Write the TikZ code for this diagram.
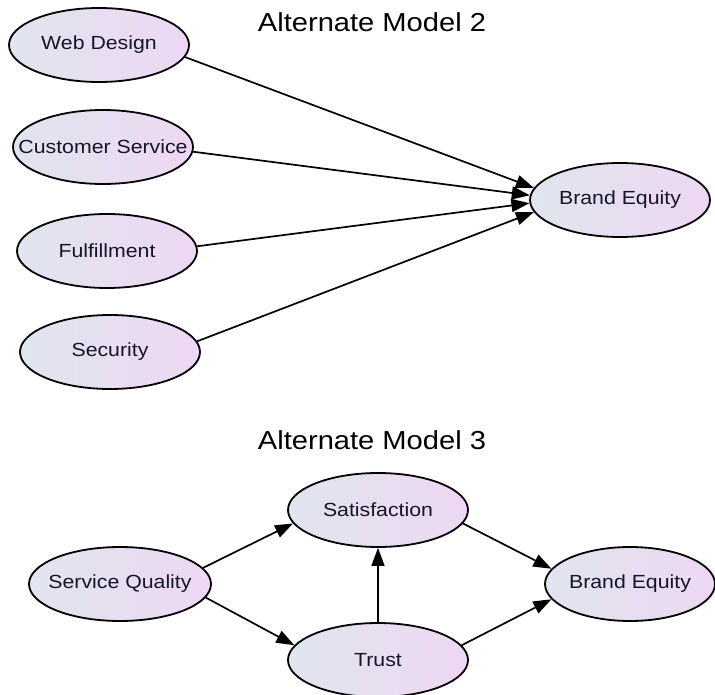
\documentclass[tikz,border=0pt]{standalone}
\usepackage{fontspec}
\setmainfont{Liberation Sans}[FakeStretch=1.12]
\usepackage{xcolor}
\usetikzlibrary{arrows.meta,shapes.geometric}

\definecolor{shadeL}{RGB}{224,229,238}
\definecolor{shadeR}{RGB}{238,215,243}
\definecolor{inkC}{RGB}{22,22,40}

\begin{document}
\begin{tikzpicture}[x=1pt,y=-1pt,>={Triangle[length=18pt,width=13pt]},line join=round,
  construct/.style={ellipse,draw=black,line width=1.8pt,left color=shadeL,right color=shadeR,
    minimum width=180pt,minimum height=74pt,inner xsep=-40pt,inner ysep=0pt,text=inkC,
    font=\fontsize{19}{23}\selectfont},
  path/.style={->,line width=1.7pt},
  heading/.style={text=black,font=\fontsize{26}{30}\selectfont}]
  \useasboundingbox (0,0) rectangle (715,695);
  \node[heading] (t2) at (372,22) {Alternate Model 2};
  \node[construct] (WD) at (99,45) {Web Design};
  \node[construct] (CS) at (103,147) {Customer Service};
  \node[construct] (FU) at (107,251) {Fulfillment};
  \node[construct] (SE) at (110,352) {Security};
  \node[construct] (BE2) at (620,200) {Brand Equity};
  \draw[path] (WD.-8) -- (BE2.172);
  \draw[path] (CS.-3) -- (BE2.177);
  \draw[path] (FU.3) -- (BE2.182);
  \draw[path] (SE.7) -- (BE2.188);
  \node[heading] (t3) at (372,440) {Alternate Model 3};
  \node[construct,minimum width=182pt] (SQ) at (120,584) {Service Quality};
  \node[construct] (SA) at (378,510) {Satisfaction};
  \node[construct] (TR) at (378,660) {Trust};
  \node[construct,minimum width=170pt] (BE3) at (630,584) {Brand Equity};
  \draw[path] (SQ.11) -- (SA.189);
  \draw[path] (SQ.-9) -- (TR.170);
  \draw[path] (TR.north) -- (SA.south);
  \draw[path] (SA.-9) -- (BE3.169);
  \draw[path] (TR.10) -- (BE3.191);
\end{tikzpicture}
\end{document}
